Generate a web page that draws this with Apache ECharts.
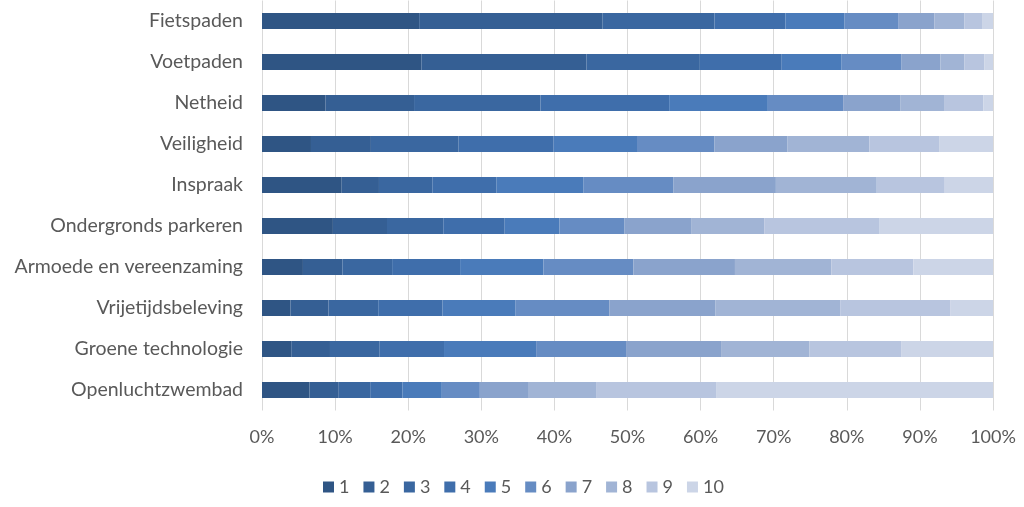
<!DOCTYPE html>
<html>
<head>
<meta charset="utf-8">
<script src="https://cdn.jsdelivr.net/npm/echarts@6/dist/echarts.min.js"></script>
<style>html,body{margin:0;padding:0;background:#fff;}#c{width:1024px;height:507px;}</style>
</head>
<body>
<div id="c"></div>
<script>
const categories = ["Fietspaden","Voetpaden","Netheid","Veiligheid","Inspraak","Ondergronds parkeren","Armoede en vereenzaming","Vrijetijdsbeleving","Groene technologie","Openluchtzwembad"];
const seriesNames = ["1","2","3","4","5","6","7","8","9","10"];
// percentage of each score per category (rows = categories, order as above)
const s1  = [21.5, 21.8,  8.7,  6.7, 10.9,  9.7,  5.6,  3.9,  4.0,  6.5];
const s2  = [25.1, 22.6, 12.1,  8.2,  5.1,  7.4,  5.4,  5.2,  5.3,  4.0];
const s3  = [15.3, 15.5, 17.3, 12.0,  7.3,  7.7,  6.8,  6.8,  6.8,  4.3];
const s4  = [ 9.7, 11.2, 17.6, 13.0,  8.8,  8.4,  9.3,  8.8,  8.8,  4.4];
const s5  = [ 8.1,  8.2, 13.5, 11.4, 11.9,  7.5, 11.4, 10.0, 12.6,  5.4];
const s6  = [ 7.4,  8.2, 10.3, 10.6, 12.3,  8.9, 12.3, 12.8, 12.3,  5.2];
const s7  = [ 4.9,  5.3,  7.8, 10.0, 14.0,  9.1, 13.9, 14.5, 13.0,  6.7];
const s8  = [ 4.1,  3.3,  6.0, 11.2, 13.8, 10.0, 13.2, 17.1, 12.1,  9.2];
const s9  = [ 2.4,  2.7,  5.4,  9.6,  9.3, 15.8, 11.2, 15.1, 12.6, 16.5];
const s10 = [ 1.5,  1.2,  1.3,  7.3,  6.6, 15.5, 10.9,  5.8, 12.5, 37.8];
const tickLabels = ["0%","10%","20%","30%","40%","50%","60%","70%","80%","90%","100%"];
const colors = ["#2f5584","#355f94","#3a67a0","#3f6eab","#4a7bba","#668cc3","#8aa3cc","#a1b4d5","#b8c5df","#ccd5e7"];

const allSeries = [s1,s2,s3,s4,s5,s6,s7,s8,s9,s10];
const FONT = "Lato";
const chart = echarts.init(document.getElementById('c'), null, {renderer:'canvas'});
chart.setOption({
  animation:false,
  color: colors,
  textStyle:{fontFamily:FONT},
  grid:{left:262, right:31, top:0.5, bottom:96.5, containLabel:false},
  legend:{
    data: seriesNames,
    left: 318, top: 473,
    itemWidth: 11, itemHeight: 11, itemGap: 14,
    icon: 'rect',
    textStyle:{fontFamily:FONT, fontSize:18, color:'#595959'}
  },
  xAxis:{
    type:'value', min:0, max:100, interval:10,
    axisLine:{show:false}, axisTick:{show:false},
    splitLine:{show:true, lineStyle:{color:'#d9d9d9', width:1}},
    axisLabel:{fontFamily:FONT, fontSize:18, color:'#595959', margin:18,
      formatter:(v)=>tickLabels[Math.round(v/10)]}
  },
  yAxis:{
    type:'category', data:categories, inverse:true,
    axisLine:{show:false}, axisTick:{show:false},
    axisLabel:{fontFamily:FONT, fontSize:19.5, color:'#595959', margin:19}
  },
  series: allSeries.map((d,i)=>({
    name: seriesNames[i], type:'bar', stack:'total', barWidth:16,
    data: d, itemStyle:{color:colors[i]}
  }))
});
</script>
</body>
</html>
